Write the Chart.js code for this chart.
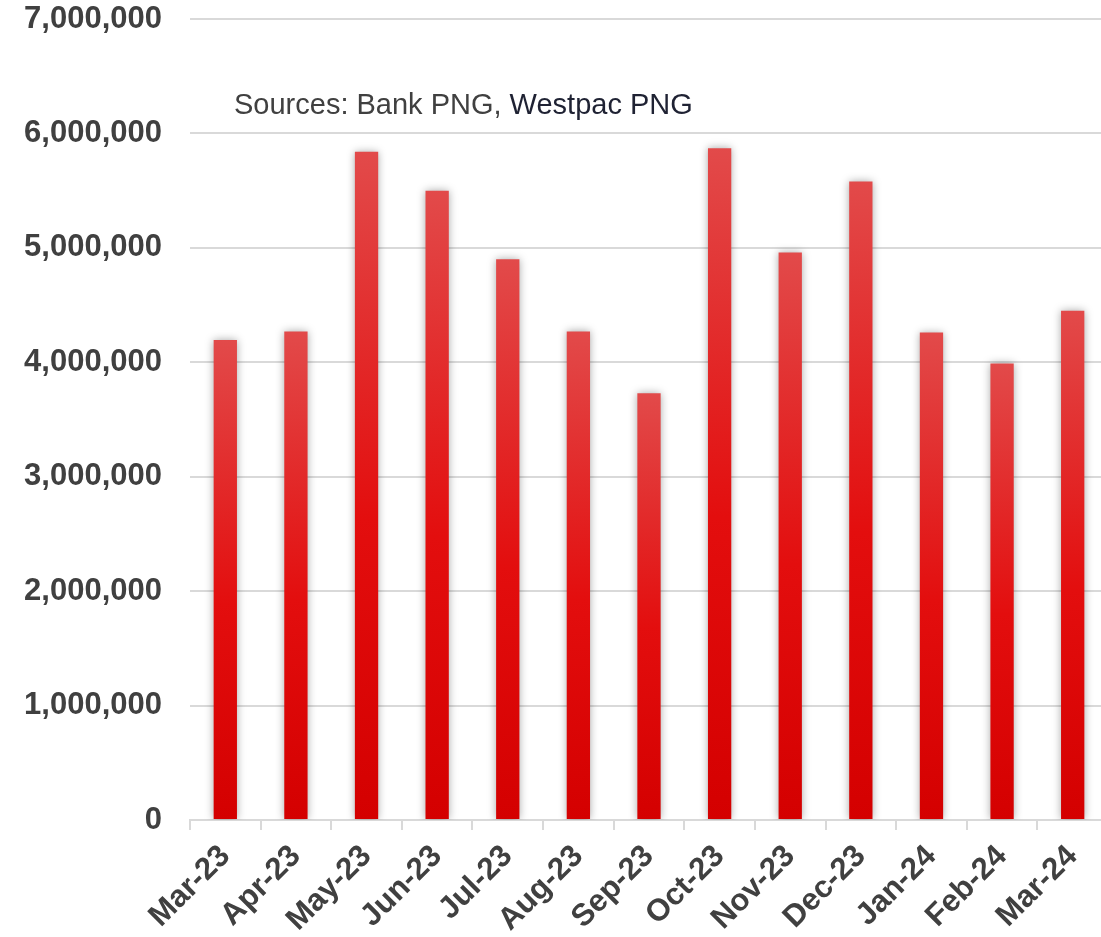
<!DOCTYPE html>
<html>
<head>
<meta charset="utf-8">
<title>Monthly volume</title>
<script src="https://cdn.jsdelivr.net/npm/chart.js@4.4.1/dist/chart.umd.min.js"></script>
<style>
  html, body { margin: 0; padding: 0; background: #fff; overflow: hidden; }
  #wrap { position: relative; width: 1108px; height: 937px; }
</style>
</head>
<body>
<div id="wrap"><canvas id="volumeChart"></canvas></div>
<script>
// Monthly figures, Mar-23 to Mar-24
const months = ["Mar-23", "Apr-23", "May-23", "Jun-23", "Jul-23", "Aug-23", "Sep-23",
                "Oct-23", "Nov-23", "Dec-23", "Jan-24", "Feb-24", "Mar-24"];
const values = [4195000, 4270000, 5840000, 5500000, 4900000, 4270000, 3730000,
                5870000, 4960000, 5580000, 4260000, 3990000, 4450000];
const yTicks = [0, 1000000, 2000000, 3000000, 4000000, 5000000, 6000000, 7000000];
const sourceParts = ["Sources: Bank PNG, ", "Westpac PNG"];

const GRID = "#d9d9d9";
const LABEL = "#404040";

// vertical gradient per bar: lighter at the top, deep red at the base
function barFill(ctx) {
  const chart = ctx.chart;
  const area = chart.chartArea;
  if (!area || ctx.raw == null) return "#d40000";
  const top = chart.scales.y.getPixelForValue(ctx.raw);
  const g = chart.ctx.createLinearGradient(0, top, 0, area.bottom);
  g.addColorStop(0, "#e24a4a");
  g.addColorStop(0.55, "#e30e0e");
  g.addColorStop(1, "#d40000");
  return g;
}

// soft grey shadow around the bars
const barShadow = {
  id: "barShadow",
  beforeDatasetsDraw(chart) {
    const c = chart.ctx;
    c.save();
    c.shadowColor = "rgba(0,0,0,0.35)";
    c.shadowBlur = 8;
    c.shadowOffsetX = 0;
    c.shadowOffsetY = 0;
  },
  afterDatasetsDraw(chart) {
    chart.ctx.restore();
  }
};

// source note inside the plot
const sourceNote = {
  id: "sourceNote",
  afterDraw(chart) {
    const c = chart.ctx;
    c.save();
    c.font = "29px 'Liberation Sans', Arial, sans-serif";
    c.textBaseline = "alphabetic";
    c.textAlign = "left";
    let x = 234;
    c.fillStyle = LABEL;
    c.fillText(sourceParts[0], x, 114);
    x += c.measureText(sourceParts[0]).width;
    c.fillStyle = "#1f2233";
    c.fillText(sourceParts[1], x, 114);
    c.restore();
  }
};

new Chart(document.getElementById("volumeChart"), {
  type: "bar",
  data: {
    labels: months,
    datasets: [{
      data: values,
      backgroundColor: barFill,
      borderWidth: 0,
      barPercentage: 0.33,
      categoryPercentage: 1.0
    }]
  },
  options: {
    responsive: true,
    maintainAspectRatio: false,
    animation: false,
    layout: { padding: { top: 19, right: 0, left: 0, bottom: 0 } },
    plugins: {
      legend: { display: false },
      tooltip: { enabled: false }
    },
    scales: {
      x: {
        offset: true,
        grid: {
          offset: true,
          drawOnChartArea: false,
          drawTicks: true,
          tickLength: 10,
          color: GRID,
          lineWidth: 2
        },
        border: { display: true, color: GRID, width: 2 },
        ticks: {
          autoSkip: false,
          maxRotation: 45,
          minRotation: 45,
          color: LABEL,
          padding: 8,
          font: { family: "'Liberation Sans', Arial, sans-serif", size: 31, weight: "bold" }
        },
        afterFit(scale) { scale.height = 117; }
      },
      y: {
        min: 0,
        max: 7000000,
        afterBuildTicks(scale) { scale.ticks = yTicks.map(v => ({ value: v })); },
        // invisible tick marks give the gap between labels and plot
        grid: { color: GRID, lineWidth: 2, drawTicks: true, tickLength: 28, tickColor: "rgba(0,0,0,0)" },
        border: { display: false },
        ticks: {
          color: LABEL,
          padding: 0,
          font: { family: "'Liberation Sans', Arial, sans-serif", size: 31, weight: "bold" },
          callback: v => v.toLocaleString("en-US")
        },
        afterFit(scale) { scale.width = 190; }
      }
    }
  },
  plugins: [barShadow, sourceNote]
});
</script>
</body>
</html>
